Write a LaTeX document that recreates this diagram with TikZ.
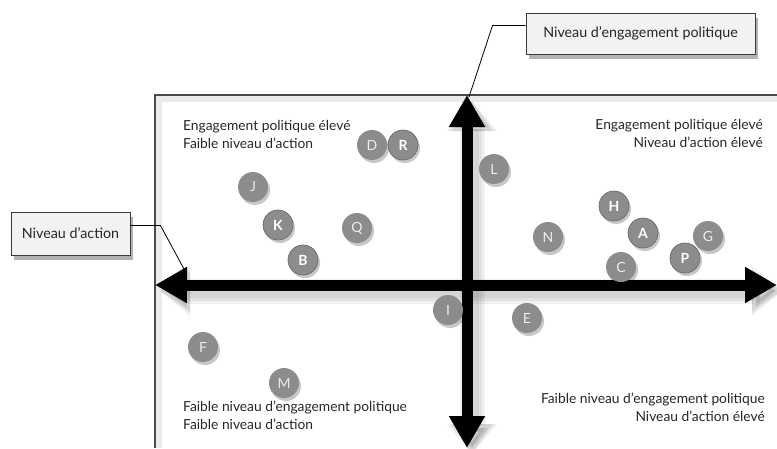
\documentclass[tikz,border=0pt]{standalone}
\usepackage{fontspec}
\setmainfont{Lato}
\usetikzlibrary{arrows.meta,shadows}
\definecolor{dotgray}{HTML}{8C8C8C}
\definecolor{dotedge}{HTML}{6A6A6A}
\definecolor{boxfill}{HTML}{F2F2F2}
\definecolor{boxedge}{HTML}{3A3A3A}
\definecolor{framegray}{HTML}{4A4A4A}
\begin{document}
\begin{tikzpicture}[x=1pt,y=-1pt,
  dot/.style={circle,fill=dotgray,minimum size=30pt,inner sep=0pt,
    text=white!85!gray,font=\fontsize{14}{14}\selectfont,
    drop shadow={shadow xshift=2pt,shadow yshift=-3pt,opacity=0.22,fill=black}},
  bdot/.style={dot,draw=dotedge,line width=0.7pt,text=white,
    font=\fontsize{14}{14}\selectfont\bfseries},
  lbox/.style={rectangle,draw=boxedge,line width=1pt,fill=boxfill,
    inner sep=0pt,font=\fontsize{14.3}{16}\selectfont,text=black!85,
    drop shadow={shadow xshift=3pt,shadow yshift=-5pt,opacity=0.3,fill=black}},
  qtext/.style={inner sep=0pt,font=\fontsize{13.8}{18}\selectfont,text=black!85},
  axis/.style={line width=11pt,{Triangle[length=32pt,width=34pt]}-{Triangle[length=32pt,width=34pt]}},
  axshadow/.style={black,opacity=0.06,line width=#1,
    {Triangle[length=30pt,width=34pt+#1-11pt]}-{Triangle[length=30pt,width=34pt+#1-11pt]}},
  leader/.style={draw=black,line width=0.8pt}]
\useasboundingbox (0,0) rectangle (777,448);
% frame
\draw[black,opacity=0.08,line width=6pt] (159,448) -- (159,99) -- (777,99);
\draw[framegray,line width=1.2pt] (155,448) -- (155,95) -- (777,95);
% axis coordinates
\coordinate (vtop) at (467,95);
\coordinate (vbot) at (467,448);
\coordinate (hleft) at (155,285);
\coordinate (hright) at (777,285);
\coordinate (hcorner) at (184,269);
% axis shadows (soft, layered)
\foreach \w in {25pt,19pt,14pt}{
  \draw[axshadow=\w] ([shift={(5,6)}]vtop) -- ([shift={(5,6)}]vbot);
  \draw[axshadow=\w] ([shift={(5,6)}]hleft) -- ([shift={(5,6)}]hright);
}
% axes
\draw[axis] (vtop) -- (vbot);
\draw[axis] (hleft) -- (hright);
% quadrant texts
\node[qtext,anchor=base west,align=left] (tl) at (183,148) {Engagement politique élevé\\Faible niveau d’action};
\node[qtext,anchor=base east,align=right] (tr) at (763,147) {Engagement politique élevé\\Niveau d’action élevé};
\node[qtext,anchor=base west,align=left] (bl) at (183,429) {Faible niveau d’engagement politique\\Faible niveau d’action};
\node[qtext,anchor=base east,align=right] (br) at (765,421) {Faible niveau d’engagement politique\\Niveau d’action élevé};
% label boxes
\node[lbox,minimum width=229pt,minimum height=41pt] (eng) at (640.5,33.5) {Niveau d’engagement politique};
\node[lbox,minimum width=119pt,minimum height=43pt] (act) at (70.5,233.5) {Niveau d’action};
\draw[leader] ([yshift=-13pt]eng.north west) -- ++(-33,0) -- ([shift={(2,2)}]vtop);
\draw[leader] ([yshift=-14pt]act.north east) -- ++(30,0) -- (hcorner);
% dots
\node[dot]  (D) at (372,145) {D};
\node[bdot] (R) at (403,145) {R};
\node[dot]  (J) at (253,187) {J};
\node[bdot] (K) at (278,225) {K};
\node[dot]  (Q) at (357,228) {Q};
\node[bdot] (B) at (303,260) {B};
\node[dot]  (L) at (494,169) {L};
\node[bdot] (H) at (614,206) {H};
\node[bdot] (A) at (643,233) {A};
\node[dot]  (N) at (548,237) {N};
\node[dot]  (G) at (708,236) {G};
\node[bdot] (P) at (685,258) {P};
\node[dot]  (C) at (621,267) {C};
\node[dot]  (I) at (448,310) {I};
\node[dot]  (E) at (527,318) {E};
\node[dot]  (F) at (203,347) {F};
\node[dot]  (M) at (284,383) {M};
\end{tikzpicture}
\end{document}
